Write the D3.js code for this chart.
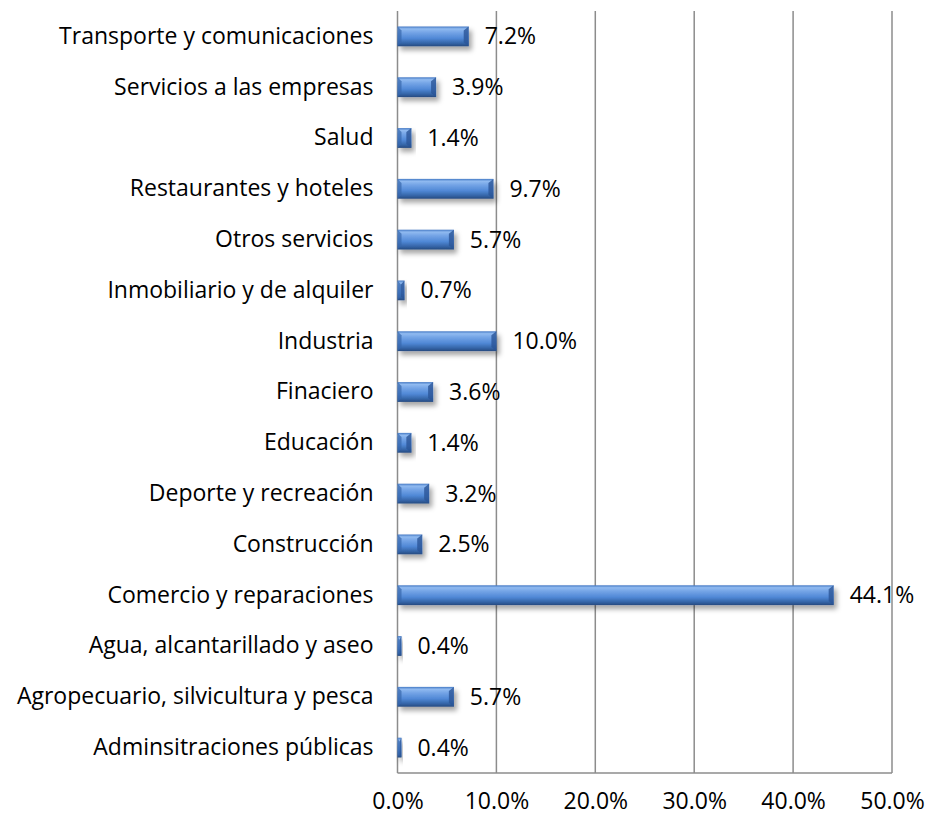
<!DOCTYPE html>
<html>
<head>
<meta charset="utf-8">
<script src="https://cdn.jsdelivr.net/npm/d3@7"></script>
<style>
  body { margin: 0; background: #fff; }
  text { font-family: "Open Sans", sans-serif; fill: #000; }
</style>
</head>
<body>
<svg id="chart" width="930" height="819"></svg>
<script>
// categories, listed from top to bottom as in the chart
var categories = [
  'Transporte y comunicaciones',
  'Servicios a las empresas',
  'Salud',
  'Restaurantes y hoteles',
  'Otros servicios',
  'Inmobiliario y de alquiler',
  'Industria',
  'Finaciero',
  'Educación',
  'Deporte y recreación',
  'Construcción',
  'Comercio y reparaciones',
  'Agua, alcantarillado y aseo',
  'Agropecuario, silvicultura y pesca',
  'Adminsitraciones públicas'
];
var shares = [7.2, 3.9, 1.4, 9.7, 5.7, 0.7, 10.0, 3.6, 1.4, 3.2, 2.5, 44.1, 0.4, 5.7, 0.4];
var xTicks = [0, 10, 20, 30, 40, 50];

var margin = {top: 11, left: 397.5, right: 38, bottom: 46};
var width = 930, height = 819;
var fontSize = '23px';

var svg = d3.select('#chart');

var defs = svg.append('defs');
var grad = defs.append('linearGradient')
  .attr('id', 'barFill')
  .attr('x1', 0).attr('y1', 0).attr('x2', 0).attr('y2', 1);
[[0, '#4479c4'], [0.12, '#90baf0'], [0.3, '#74a4e6'], [0.6, '#5088d6'],
 [0.85, '#3464a6'], [1, '#264a80']].forEach(function(s) {
  grad.append('stop').attr('offset', s[0]).attr('stop-color', s[1]);
});
var shadow = defs.append('filter').attr('id', 'shadow')
  .attr('x', '-20%').attr('y', '-50%').attr('width', '150%').attr('height', '250%');
shadow.append('feDropShadow')
  .attr('dx', 3).attr('dy', 4).attr('stdDeviation', 2.5)
  .attr('flood-color', '#000').attr('flood-opacity', 0.35);

var x = d3.scaleLinear()
  .domain([0, 50])
  .range([margin.left, width - margin.right]);

var y = d3.scaleBand()
  .domain(categories)
  .range([margin.top, height - margin.bottom])
  .paddingInner(0.61)
  .paddingOuter(0.305);

var grid = svg.append('g').attr('class', 'grid');
grid.selectAll('line')
  .data(xTicks)
  .join('line')
  .attr('x1', function(d) { return x(d); })
  .attr('x2', function(d) { return x(d); })
  .attr('y1', margin.top)
  .attr('y2', height - margin.bottom)
  .attr('stroke', '#8c8c8c')
  .attr('stroke-width', 1.5);

grid.append('line')
  .attr('x1', x(0)).attr('x2', x(50))
  .attr('y1', height - margin.bottom).attr('y2', height - margin.bottom)
  .attr('stroke', '#8c8c8c')
  .attr('stroke-width', 1.5);

var xAxis = d3.axisBottom(x)
  .tickValues(xTicks)
  .tickSize(0)
  .tickPadding(20)
  .tickFormat(function(d) { return d3.format('.1f')(d) + '%'; });

svg.append('g')
  .attr('transform', 'translate(0,' + (height - margin.bottom) + ')')
  .call(xAxis)
  .call(function(g) { g.select('.domain').remove(); })
  .selectAll('text')
  .style('font-family', '"Open Sans", sans-serif')
  .style('font-size', fontSize)
  .attr('fill', '#000');

var yAxis = d3.axisLeft(y).tickSize(0).tickPadding(24);
svg.append('g')
  .attr('transform', 'translate(' + margin.left + ',0)')
  .call(yAxis)
  .call(function(g) { g.select('.domain').remove(); })
  .selectAll('text')
  .style('font-family', '"Open Sans", sans-serif')
  .style('font-size', fontSize)
  .attr('fill', '#000');

var rows = categories.map(function(c, i) { return {cat: c, val: shares[i]}; });

var bars = svg.append('g').attr('class', 'bars')
  .selectAll('g')
  .data(rows)
  .join('g')
  .attr('filter', 'url(#shadow)');

bars.append('rect')
  .attr('x', x(0))
  .attr('y', function(d) { return y(d.cat); })
  .attr('width', function(d) { return x(d.val) - x(0); })
  .attr('height', y.bandwidth())
  .attr('fill', 'url(#barFill)');

// bevelled right end of each bar
bars.append('polygon')
  .attr('points', function(d) {
    var x1 = x(d.val), y0 = y(d.cat), y1 = y0 + y.bandwidth();
    var b = Math.min(5, (x1 - x(0)) / 2);
    return [[x1 - b, y0 + 4], [x1, y0], [x1, y1], [x1 - b, y1 - 4]].join(' ');
  })
  .attr('fill', '#2b5597')
  .attr('opacity', 0.8);

// bevelled left end
bars.append('polygon')
  .attr('points', function(d) {
    var x0 = x(0), y0 = y(d.cat), y1 = y0 + y.bandwidth();
    var b = Math.min(4, (x(d.val) - x0) / 2);
    return [[x0, y0], [x0 + b, y0 + 4], [x0 + b, y1 - 4], [x0, y1]].join(' ');
  })
  .attr('fill', '#3667ad')
  .attr('opacity', 0.7);

svg.append('g').attr('class', 'labels')
  .selectAll('text')
  .data(rows)
  .join('text')
  .attr('x', function(d) { return x(d.val) + 16; })
  .attr('y', function(d) { return y(d.cat) + y.bandwidth() / 2; })
  .attr('dy', '0.35em')
  .style('font-size', fontSize)
  .text(function(d) { return d3.format('.1f')(d.val) + '%'; });
</script>
</body>
</html>
